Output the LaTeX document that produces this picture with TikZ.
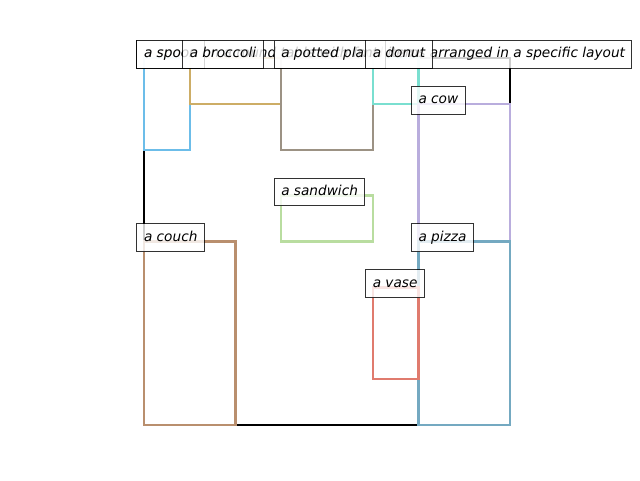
\documentclass[tikz,border=0pt]{standalone}
\usepackage{fontspec}
\setmainfont{DejaVu Sans}

\definecolor{spooncol}{HTML}{6CBDE9}
\definecolor{broccolicol}{HTML}{CDAD66}
\definecolor{plantcol}{HTML}{9C9284}
\definecolor{donutcol}{HTML}{7ADFD0}
\definecolor{cowcol}{HTML}{B9ADDD}
\definecolor{sandwichcol}{HTML}{B9DDA0}
\definecolor{couchcol}{HTML}{B98F6E}
\definecolor{pizzacol}{HTML}{74A9C1}
\definecolor{vasecol}{HTML}{E07B6E}

\begin{document}
\begin{tikzpicture}[
    x=34.3125pt, y=-34.40625pt,
  objbox/.style={line width=1.8pt},
  labelnode/.style={anchor=base west, xshift=-5.25pt, draw=black, fill=white, opacity=0.8, text opacity=1,
    line width=0.75pt, inner xsep=5.25pt, inner ysep=5.25pt, outer sep=0pt,
    text height=7.9pt, text depth=2.5pt, font=\fontsize{10.25}{12}\selectfont\itshape}
]
\useasboundingbox (-3.1475,-1.2643) rectangle (10.8415,9.1989);

% Canvas
\draw[line width=1.8pt] (0,0) rectangle (8,8);

% Object boxes
\draw[objbox, spooncol] (0,0) rectangle (1,2);
\draw[objbox, broccolicol] (1,0) rectangle (3,1);
\draw[objbox, plantcol] (3,0) rectangle (5,2);
\draw[objbox, donutcol] (5,0) rectangle (6,1);
\draw[objbox, cowcol] (6,1) rectangle (8,4);
\draw[objbox, sandwichcol] (3,3) rectangle (5,4);
\draw[objbox, couchcol] (0,4) rectangle (2,8);
\draw[objbox, pizzacol] (6,4) rectangle (8,8);
\draw[objbox, vasecol] (5,5) rectangle (6,7);

% Caption
\node[labelnode] (caption) at (0,0) {a spoon on a round table with food items arranged in a specific layout};

% Object labels
\node[labelnode] (spoon) at (0,0) {a spoon};
\node[labelnode] (broccoli) at (1,0) {a broccoli};
\node[labelnode] (plant) at (3,0) {a potted plant};
\node[labelnode] (donut) at (5,0) {a donut};
\node[labelnode] (cow) at (6,1) {a cow};
\node[labelnode] (sandwich) at (3,3) {a sandwich};
\node[labelnode] (couch) at (0,4) {a couch};
\node[labelnode] (pizza) at (6,4) {a pizza};
\node[labelnode] (vase) at (5,5) {a vase};

\end{tikzpicture}
\end{document}
